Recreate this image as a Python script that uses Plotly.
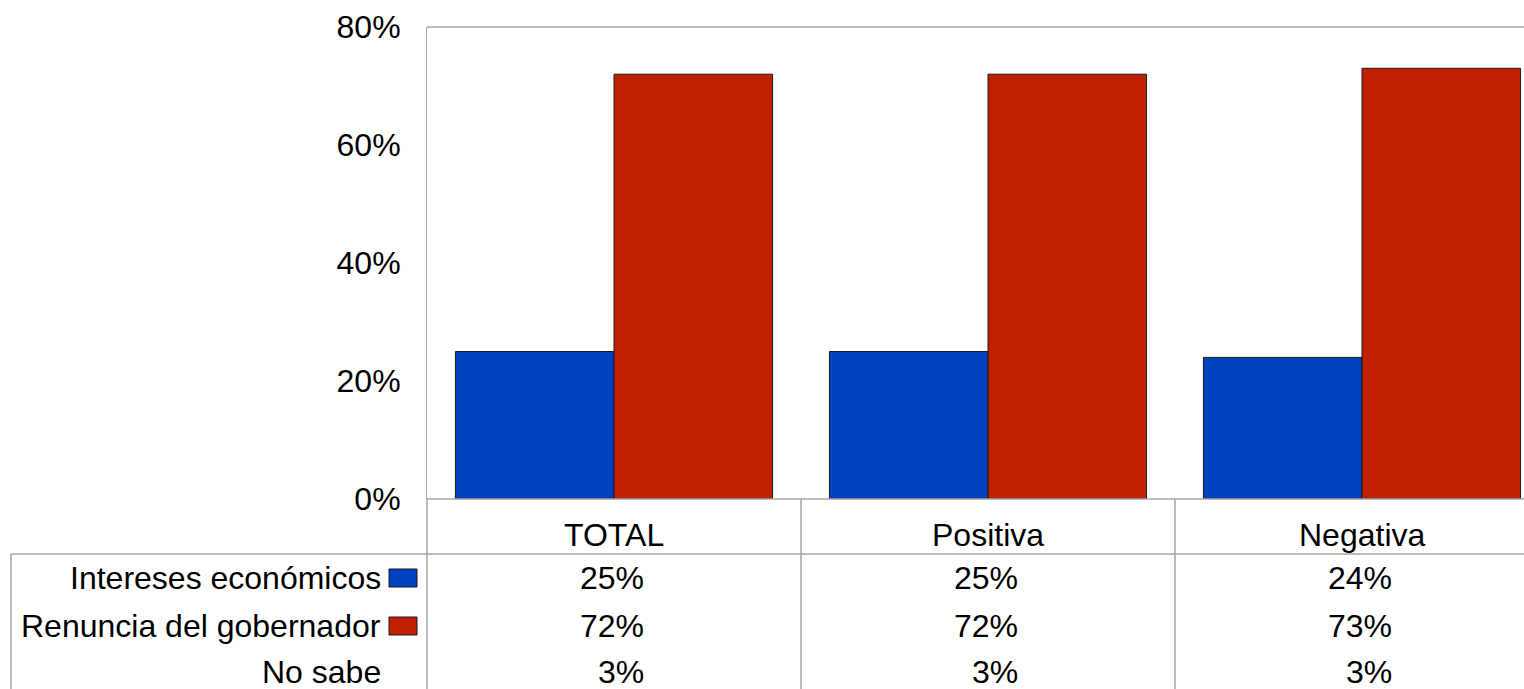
import plotly.graph_objects as go

# data
categories = ["TOTAL", "Positiva", "Negativa"]
series_names = ["Intereses económicos", "Renuncia del gobernador", "No sabe"]
intereses = [25, 25, 24]
renuncia = [72, 72, 73]
no_sabe = [3, 3, 3]
y_ticks = [0, 20, 40, 60, 80]

W, H = 1524, 689
FONT = "Liberation Sans, Arial, sans-serif"
FS = 32
GRID = "#a6a6a6"
colors = ["#0041BF", "#BF2000", None]


def px_x(x):
    return x / W


def px_y(y):
    return 1 - y / H


fig = go.Figure()
fig.add_trace(go.Bar(x=categories, y=intereses, name=series_names[0],
                     marker=dict(color=colors[0], line=dict(color="#1a1a1a", width=1))))
fig.add_trace(go.Bar(x=categories, y=renuncia, name=series_names[1],
                     marker=dict(color=colors[1], line=dict(color="#1a1a1a", width=1))))

plot_left, plot_top, plot_bottom = 427, 27, 499
n = len(categories)
cat_w = 374
x_end = -0.5 + (W - plot_left) / cat_w

fig.update_layout(
    width=W, height=H,
    margin=dict(l=0, r=0, t=0, b=0),
    plot_bgcolor="white", paper_bgcolor="white",
    showlegend=False,
    barmode="group", bargap=0.152, bargroupgap=0,
    font=dict(family=FONT, size=FS, color="black"),
    xaxis=dict(domain=[px_x(plot_left), 1], range=[-0.5, x_end],
               showticklabels=False, showgrid=False, zeroline=False,
               showline=False, ticks="", automargin=False),
    yaxis=dict(domain=[px_y(plot_bottom), px_y(plot_top)], range=[0, 80],
               tickmode="array", tickvals=y_ticks,
               ticktext=[f"{v}%" for v in y_ticks], showgrid=False,
               zeroline=False, showline=True, linecolor=GRID, linewidth=1,
               ticks="", ticklabelstandoff=19, automargin=False,
               tickfont=dict(family=FONT, size=FS, color="black")),
)

shapes = []
# top border and x-axis line
shapes.append(dict(type="line", xref="paper", yref="paper",
                   x0=px_x(plot_left), x1=1, y0=px_y(plot_top), y1=px_y(plot_top),
                   line=dict(color=GRID, width=1.5)))
shapes.append(dict(type="line", xref="paper", yref="paper",
                   x0=px_x(plot_left), x1=1, y0=px_y(plot_bottom), y1=px_y(plot_bottom),
                   line=dict(color=GRID, width=1.5)))
# table lines
shapes.append(dict(type="line", xref="paper", yref="paper",
                   x0=px_x(plot_left), x1=px_x(plot_left), y0=px_y(plot_bottom), y1=0,
                   line=dict(color=GRID, width=1.5)))
for i in range(1, n):
    shapes.append(dict(type="line", xref="x", yref="paper",
                       x0=i - 0.5, x1=i - 0.5, y0=px_y(plot_bottom), y1=0,
                       line=dict(color=GRID, width=1.5)))
shapes.append(dict(type="line", xref="paper", yref="paper",
                   x0=px_x(11), x1=1, y0=px_y(554), y1=px_y(554),
                   line=dict(color=GRID, width=1.5)))
shapes.append(dict(type="line", xref="paper", yref="paper",
                   x0=px_x(11), x1=px_x(11), y0=px_y(554), y1=0,
                   line=dict(color=GRID, width=1.5)))

annotations = []
for c in categories:
    annotations.append(dict(x=c, y=px_y(535), xref="x", yref="paper",
                            text=c, showarrow=False, xanchor="center", yanchor="middle",
                            font=dict(family=FONT, size=FS, color="black")))

row_y = [578, 626, 672]
rows = [intereses, renuncia, no_sabe]
for name, vals, yy, col in zip(series_names, rows, row_y, colors):
    annotations.append(dict(x=px_x(383), y=px_y(yy), xref="paper", yref="paper",
                            text=name, showarrow=False, xanchor="right", yanchor="middle",
                            font=dict(family=FONT, size=FS, color="black")))
    if col:
        shapes.append(dict(type="rect", xref="paper", yref="paper",
                           x0=px_x(389), x1=px_x(417), y0=px_y(yy - 9), y1=px_y(yy + 9),
                           fillcolor=col, line=dict(color="#1a1a1a", width=1)))
    for c, v in zip(categories, vals):
        annotations.append(dict(x=c, y=px_y(yy), xref="x", yref="paper",
                                text=f"{v}%", showarrow=False, xanchor="right",
                                xshift=32, yanchor="middle",
                                font=dict(family=FONT, size=FS, color="black")))

fig.update_layout(shapes=shapes, annotations=annotations)
fig.write_html("out.html", config={"displayModeBar": False},
               post_script="document.body.style.margin='0';")
